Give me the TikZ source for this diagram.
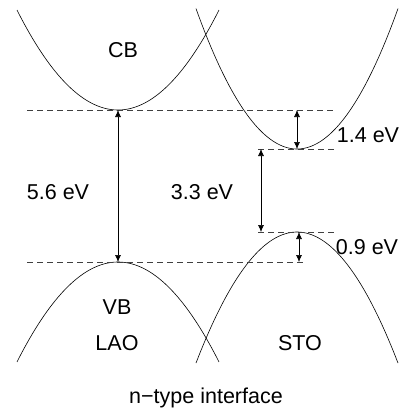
\documentclass[tikz,border=0pt]{standalone}
\usepackage{fontspec}
\setmainfont{Liberation Sans}
\usetikzlibrary{arrows.meta}
\begin{document}
\begin{tikzpicture}[x=1pt,y=-1pt,
  band/.style={line width=0.6pt,black},
  level/.style={line width=0.6pt,black!75,dash pattern=on 6pt off 4pt},
  gap/.style={line width=0.6pt,black,{Latex[length=7pt,width=6pt]}-{Latex[length=7pt,width=6pt]}},
  lbl/.style={font=\fontsize{21.5}{25}\selectfont,inner sep=0pt}]
\useasboundingbox (0,0) rectangle (404,420);
% bands
\draw[band] plot[domain=17:219,samples=80] (\x,{110-0.009803*(\x-118)^2});
\draw[band] plot[domain=196:398,samples=80] (\x,{149-0.013763*(\x-297)^2});
\draw[band] plot[domain=17:219,samples=80] (\x,{262+0.009803*(\x-118)^2});
\draw[band] plot[domain=196:398,samples=80] (\x,{232+0.012842*(\x-297)^2});
% level coordinates
\coordinate (lcbL) at (27,110);  \coordinate (lcbR) at (335,110);
\coordinate (scbL) at (258,149); \coordinate (scbR) at (335,149);
\coordinate (svbL) at (258,232); \coordinate (svbR) at (335,232);
\coordinate (lvbL) at (27,262);  \coordinate (lvbR) at (305,262);
\draw[level] (lcbL) -- (lcbR);
\draw[level] (scbL) -- (scbR);
\draw[level] (svbL) -- (svbR);
\draw[level] (lvbL) -- (lvbR);
% gap arrows
\coordinate (a1) at (118,110); \coordinate (a2) at (118,262);
\coordinate (b1) at (261,149); \coordinate (b2) at (261,232);
\coordinate (c1) at (297,110); \coordinate (c2) at (297,149);
\coordinate (d1) at (299,232); \coordinate (d2) at (299,262);
\draw[gap] (a1) -- (a2);
\draw[gap] (b1) -- (b2);
\draw[gap] (c1) -- (c2);
\draw[gap] (d1) -- (d2);
% labels
\node[lbl] (cb) at (123,50) {CB};
\node[lbl] (vb) at (117,307) {VB};
\node[lbl] (lao) at (117,343) {LAO};
\node[lbl] (sto) at (300,343) {STO};
\node[lbl] (e56) at (58,192) {5.6 eV};
\node[lbl] (e33) at (202,192) {3.3 eV};
\node[lbl] (e14) at (368,135) {1.4 eV};
\node[lbl] (e09) at (367,247) {0.9 eV};
\node[lbl] (title) at (206,398) {n−type interface};
\end{tikzpicture}
\end{document}
